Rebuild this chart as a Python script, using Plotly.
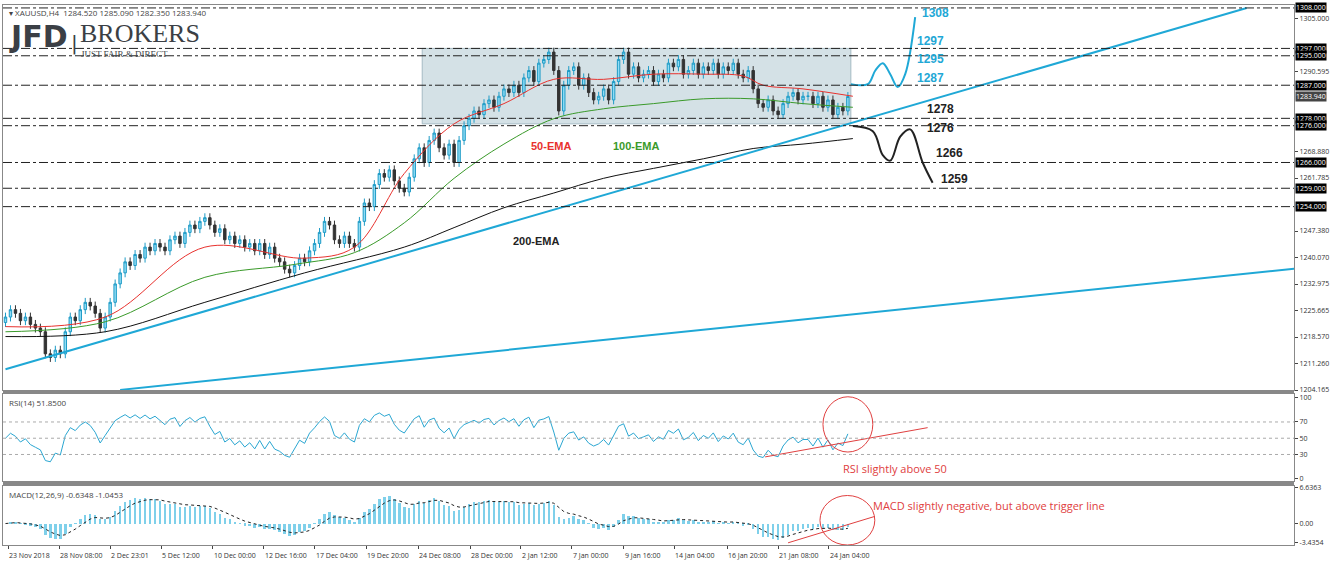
import numpy as np
import plotly.graph_objects as go

# H4 closes (one value per ~2 bars)
closes = [1224,1226,1225,1223,1224,1222,1221,1220,1214,1213,1215,
          1214,1220,1224,1223,1226,1228,1227,1225,1221,1224,
          1228,1233,1236,1239,1238,1241,1240,1243,1242,1244,
          1243,1242,1245,1246,1244,1247,1249,1248,1250,1251,
          1249,1247,1248,1245,1246,1244,1245,1243,1244,1242,
          1244,1241,1243,1240,1239,1237,1236,1238,1240,1239,
          1242,1244,1247,1250,1249,1245,1244,1246,1244,1243,
          1250,1255,1254,1260,1263,1262,1264,1261,1259,1258,
          1262,1267,1270,1266,1272,1274,1270,1268,1271,1266,
          1272,1276,1278,1280,1279,1282,1283,1281,1284,1286,
          1285,1287,1285,1289,1291,1288,1293,1294,1296,1291,
          1280,1287,1291,1292,1287,1289,1285,1283,1284,1286,
          1283,1288,1294,1296,1290,1292,1289,1290,1291,1288,
          1290,1289,1293,1292,1294,1290,1291,1293,1290,1292,
          1291,1293,1290,1292,1291,1293,1290,1289,1291,1286,
          1282,1281,1283,1280,1279,1282,1284,1285,1283,1284,
          1284,1282,1284,1281,1283,1279,1281,1280,1283.94]
opens = [1222.5] + closes[:-1]
wick = 1.2
highs = [max(o, c) + wick for o, c in zip(opens, closes)]
lows = [min(o, c) - wick for o, c in zip(opens, closes)]
bars = list(range(len(closes)))

ema_x = [0, 20, 40, 60, 70, 80, 90, 100, 110, 120, 130, 140, 148, 152, 160, 170]
ema50 = [1221.4, 1224, 1243, 1240, 1243, 1263, 1276.5, 1282, 1288.6, 1288.6, 1290, 1290, 1289.5, 1287, 1286, 1284]
ema100_x = [0, 20, 40, 58, 70, 80, 90, 100, 110, 120, 130, 140, 150, 160, 170]
ema100 = [1220, 1222.7, 1234.8, 1238.3, 1241.5, 1249.6, 1261.7, 1271, 1277.9, 1280.6, 1282, 1283.3, 1283.3, 1282, 1281]
ema200_x = [0, 20, 40, 60, 80, 90, 100, 110, 120, 130, 140, 150, 160, 170]
ema200 = [1218.7, 1220, 1228, 1236, 1243, 1248.3, 1253.7, 1257.7, 1261.7, 1264.4, 1267, 1269.8, 1271, 1272.5]

levels = [1308, 1297, 1295, 1287, 1278, 1276, 1266, 1259, 1254]
axis_ticks = [1305.0, 1290.595, 1268.880, 1261.785, 1247.380, 1240.070, 1232.975, 1225.665, 1218.570, 1211.260, 1204.165]
date_labels = ["23 Nov 2018", "28 Nov 08:00", "2 Dec 23:01", "5 Dec 12:00", "10 Dec 00:00", "12 Dec 16:00",
               "17 Dec 04:00", "19 Dec 20:00", "24 Dec 08:00", "28 Dec 00:00", "2 Jan 12:00", "7 Jan 00:00",
               "9 Jan 16:00", "14 Jan 04:00", "16 Jan 20:00", "21 Jan 08:00", "24 Jan 04:00"]
date_pos = [0.6, 10.8, 21, 31.2, 41.6, 51.8, 62, 72.4, 82.8, 93.2, 103.4, 113.6, 124, 134.2, 144.8, 155, 165.2]


def ema(vals, n, init=None):
    a = 2 / (n + 1)
    out = [vals[0] if init is None else init]
    for v in vals[1:]:
        out.append(a * v + (1 - a) * out[-1])
    return np.array(out)


c = np.array(closes)
d = np.diff(c, prepend=c[0])
up = ema(np.clip(d, 0, None), 13, init=1.2)
dn = ema(np.clip(-d, 0, None), 13, init=1.2)
rsi = 100 - 100 / (1 + up / np.maximum(dn, 1e-9))
macd = ema(c, 6) - ema(c, 13)
signal = ema(macd, 5)

BLUE = "#1fa8d6"
fig = go.Figure()
fig.add_trace(go.Candlestick(x=bars, open=opens, high=highs, low=lows, close=closes,
                             increasing=dict(line=dict(color="#1e9bc6", width=1), fillcolor="#8fdcf5"),
                             decreasing=dict(line=dict(color="#333333", width=1), fillcolor="#333333"),
                             whiskerwidth=0, xaxis="x", yaxis="y"))
fig.add_trace(go.Scatter(x=ema_x, y=ema50, mode="lines", line=dict(color="#e8322e", width=1), line_shape="spline"))
fig.add_trace(go.Scatter(x=ema100_x, y=ema100, mode="lines", line=dict(color="#3a9a2a", width=1), line_shape="spline"))
fig.add_trace(go.Scatter(x=ema200_x, y=ema200, mode="lines", line=dict(color="#111111", width=1), line_shape="spline"))

# trend lines
fig.add_trace(go.Scatter(x=[0, 249], y=[1209.8, 1308], mode="lines", line=dict(color=BLUE, width=2)))
fig.add_trace(go.Scatter(x=[23, 259], y=[1204.2, 1237.2], mode="lines", line=dict(color=BLUE, width=2)))

# scenario arrows
fig.add_trace(go.Scatter(x=[169.6, 173, 174.5, 176, 177.5, 179, 180.5, 182.5],
                         y=[1287.3, 1287.3, 1291, 1293, 1290, 1286.5, 1290, 1305.5],
                         mode="lines", line=dict(color=BLUE, width=2), line_shape="spline"))
fig.add_trace(go.Scatter(x=[170, 174, 176, 177.5, 179.5, 181.5, 184, 186],
                         y=[1275.9, 1274.5, 1268, 1266.5, 1273, 1275, 1266, 1260.5],
                         mode="lines", line=dict(color="#222222", width=2), line_shape="spline"))

fig.add_trace(go.Scatter(x=bars, y=rsi, mode="lines", line=dict(color="#2aa6d1", width=1), xaxis="x2", yaxis="y2"))
fig.add_trace(go.Bar(x=bars, y=macd, marker=dict(color="#7fd0ea", line=dict(width=0)), width=0.5,
                     xaxis="x3", yaxis="y3"))
fig.add_trace(go.Scatter(x=bars, y=signal, mode="lines", line=dict(color="#222222", width=1, dash="dot"),
                         xaxis="x3", yaxis="y3"))
fig.add_trace(go.Scatter(x=[152.4, 185], y=[27, 63], mode="lines", line=dict(color="#e04040", width=1),
                         xaxis="x2", yaxis="y2"))
fig.add_trace(go.Scatter(x=[157, 174.4], y=[-3.5, 1.3], mode="lines", line=dict(color="#e04040", width=1),
                         xaxis="x3", yaxis="y3"))

shapes = [dict(type="rect", xref="x", yref="y", x0=83.6, x1=169.6, y0=1276.5, y1=1297,
               fillcolor="rgba(170,195,205,0.5)", line=dict(color="rgba(150,175,185,0.8)", width=1), layer="below")]
for lv in levels:
    shapes.append(dict(type="line", xref="paper", yref="y", x0=0, x1=1, y0=lv, y1=lv,
                       line=dict(color="#222222", width=1, dash="dashdot")))
for lv in [70, 50, 30]:
    shapes.append(dict(type="line", xref="paper", yref="y2", x0=0, x1=1, y0=lv, y1=lv,
                       line=dict(color="#aaaaaa", width=1, dash="dot")))
shapes.append(dict(type="circle", xref="x2", yref="y2", x0=164, x1=174, y0=33, y1=101,
                   line=dict(color="#e04040", width=1)))
shapes.append(dict(type="circle", xref="x3", yref="y3", x0=163.4, x1=174.4, y0=-3.9, y1=5.1,
                   line=dict(color="#e04040", width=1)))
for y0 in [0.283, 0.114]:
    shapes.append(dict(type="line", xref="paper", yref="paper", x0=0, x1=1, y0=y0, y1=y0,
                       line=dict(color="#888888", width=3)))

ann = []
for lv in levels:
    ann.append(dict(x=1.001, xref="paper", xanchor="left", y=lv, yref="y", text=f"{lv:.3f}", showarrow=False,
                    bgcolor="black", font=dict(color="white", size=7), borderpad=0))
ann.append(dict(x=1.001, xref="paper", xanchor="left", y=1283.94, yref="y", text="1283.940", showarrow=False,
                bgcolor="#444444", font=dict(color="white", size=7), borderpad=0))
for txt, x, y, col in [("1308", 183.5, 1306.5, BLUE), ("1297", 182.5, 1299, BLUE), ("1295", 182.5, 1294, BLUE),
                       ("1287", 182.5, 1289, BLUE), ("1278", 184.5, 1280.5, "#222"), ("1276", 184.5, 1275.5, "#222"),
                       ("1266", 186.3, 1268.5, "#222"), ("1259", 187.3, 1261.5, "#222")]:
    ann.append(dict(x=x, y=y, xref="x", yref="y", text=f"<b>{txt}</b>", showarrow=False, xanchor="left",
                    font=dict(color=col, size=12, family="Arial")))
for txt, x, y, col in [("50-EMA", 105, 1270.5, "#e8322e"), ("100-EMA", 121.5, 1270.5, "#3a9a2a"),
                       ("200-EMA", 101.5, 1244.8, "#222")]:
    ann.append(dict(x=x, y=y, xref="x", yref="y", text=f"<b>{txt}</b>", showarrow=False, xanchor="left",
                    font=dict(color=col, size=11, family="Arial")))
for p, lab in zip(date_pos, date_labels):
    ann.append(dict(x=p, xref="x3", y=-0.008, yref="paper", text=lab, showarrow=False, xanchor="left",
                    yanchor="top", xshift=-1, font=dict(size=7, color="#333")))
ann.append(dict(x=167.6, y=13, xref="x2", yref="y2", text="RSI slightly above 50", showarrow=False,
                xanchor="left", font=dict(color="#e04040", size=11)))
ann.append(dict(x=173.6, y=3.2, xref="x3", yref="y3", text="MACD slightly negative, but above trigger line",
                showarrow=False, xanchor="left", font=dict(color="#e04040", size=11)))
ann.append(dict(x=0.003, y=1.0, xref="paper", yref="paper", xanchor="left", yanchor="top", showarrow=False,
                text="▾ XAUUSD,H4  1284.520 1285.090 1282.350 1283.940", font=dict(size=8, color="#444")))
ann.append(dict(x=0.003, y=0.977, xref="paper", yref="paper", xanchor="left", yanchor="top", showarrow=False,
                text="<b>JFD</b>", font=dict(size=30, color="#3b3f45", family="DejaVu Sans")))
ann.append(dict(x=0.051, y=0.955, xref="paper", yref="paper", xanchor="left", yanchor="top", showarrow=False,
                text="|", font=dict(size=20, color="#3b3f45", family="DejaVu Sans")))
ann.append(dict(x=0.058, y=0.977, xref="paper", yref="paper", xanchor="left", yanchor="top", showarrow=False,
                text="BROKERS", font=dict(size=26, color="#3b3f45", family="Liberation Serif")))
ann.append(dict(x=0.059, y=0.923, xref="paper", yref="paper", xanchor="left", yanchor="top", showarrow=False,
                text="JUST FAIR &amp; DIRECT", font=dict(size=9, color="#3b3f45", family="Liberation Serif")))
ann.append(dict(x=0.003, y=0.278, xref="paper", yref="paper", xanchor="left", yanchor="top", showarrow=False,
                text="RSI(14) 51.8500", font=dict(size=8, color="#444")))
ann.append(dict(x=0.003, y=0.108, xref="paper", yref="paper", xanchor="left", yanchor="top", showarrow=False,
                text="MACD(12,26,9) -0.6348 -1.0453", font=dict(size=8, color="#444")))

xr = [-0.5, 258.5]
xcommon = dict(range=xr, showgrid=False, zeroline=False, showline=True, linecolor="#888", mirror=True)
ycommon = dict(side="right", showgrid=False, zeroline=False, showline=True, linecolor="#888", mirror=True,
               ticks="outside", ticklen=3, tickfont=dict(size=7, color="#333"))
fig.update_layout(
    width=1332, height=567, margin=dict(l=2, r=38, t=3, b=22),
    paper_bgcolor="white", plot_bgcolor="white", showlegend=False, bargap=0,
    shapes=shapes, annotations=ann,
    xaxis=dict(**xcommon, domain=[0, 1], anchor="y", showticklabels=False, rangeslider=dict(visible=False)),
    xaxis2=dict(**xcommon, anchor="y2", matches="x", showticklabels=False),
    xaxis3=dict(**xcommon, anchor="y3", matches="x", tickvals=date_pos, showticklabels=False,
                ticks="outside", ticklen=3),
    yaxis=dict(**ycommon, domain=[0.287, 1], range=[1204.165, 1308.8], tickvals=axis_ticks,
               ticktext=[f"{t:.3f}" for t in axis_ticks]),
    yaxis2=dict(**ycommon, domain=[0.118, 0.279], range=[-3, 104], tickvals=[0, 30, 50, 70, 100]),
    yaxis3=dict(**ycommon, domain=[0, 0.11], range=[-3.9, 6.9], tickvals=[-3.4354, 0, 6.6363],
                ticktext=["-3.4354", "0.00", "6.6363"]),
)
fig.write_html("out.html", config={"displayModeBar": False},
               post_script="document.body.style.margin='0';")
